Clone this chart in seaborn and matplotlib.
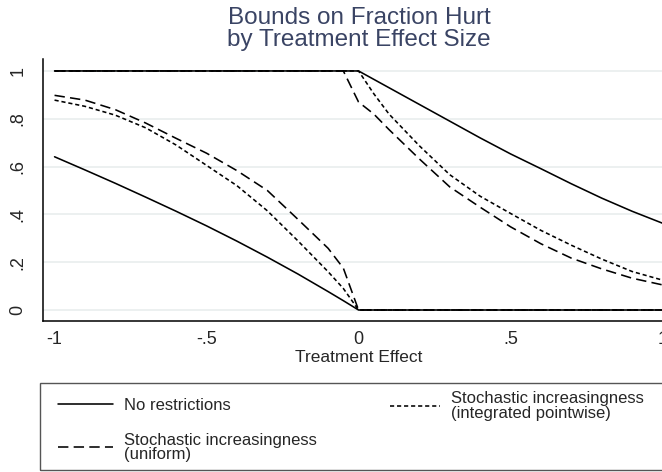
import matplotlib
matplotlib.use("Agg")
import matplotlib.pyplot as plt
from matplotlib.lines import Line2D
from matplotlib.patches import Rectangle
import seaborn as sns
import pandas as pd

# treatment effect grid (x axis)
effect = [-1.0, -0.9, -0.8, -0.7, -0.6, -0.5, -0.4, -0.3, -0.2, -0.1, -0.05, 0.0,
          0.05, 0.1, 0.2, 0.3, 0.4, 0.5, 0.6, 0.7, 0.8, 0.9, 1.0]

# no restrictions bounds
none_lower = [0.641, 0.586, 0.530, 0.472, 0.413, 0.352, 0.288, 0.221, 0.151, 0.077, 0.039, 0.0,
              0.0, 0.0, 0.0, 0.0, 0.0, 0.0, 0.0, 0.0, 0.0, 0.0, 0.0]
none_upper = [1.0, 1.0, 1.0, 1.0, 1.0, 1.0, 1.0, 1.0, 1.0, 1.0, 1.0, 1.0,
              0.965, 0.930, 0.860, 0.790, 0.720, 0.653, 0.591, 0.528, 0.468, 0.413, 0.363]

# stochastic increasingness (uniform)
unif_lower = [0.898, 0.878, 0.838, 0.782, 0.718, 0.656, 0.583, 0.500, 0.380, 0.258, 0.175, 0.0,
              0.0, 0.0, 0.0, 0.0, 0.0, 0.0, 0.0, 0.0, 0.0, 0.0, 0.0]
unif_upper = [1.0, 1.0, 1.0, 1.0, 1.0, 1.0, 1.0, 1.0, 1.0, 1.0, 1.0, 0.870,
              0.820, 0.755, 0.632, 0.515, 0.430, 0.348, 0.277, 0.217, 0.172, 0.133, 0.105]

# stochastic increasingness (integrated pointwise)
intg_lower = [0.878, 0.852, 0.815, 0.762, 0.690, 0.605, 0.520, 0.415, 0.290, 0.160, 0.090, 0.0,
              0.0, 0.0, 0.0, 0.0, 0.0, 0.0, 0.0, 0.0, 0.0, 0.0, 0.0]
intg_upper = [1.0, 1.0, 1.0, 1.0, 1.0, 1.0, 1.0, 1.0, 1.0, 1.0, 1.0, 1.0,
              0.905, 0.820, 0.687, 0.566, 0.476, 0.404, 0.333, 0.271, 0.213, 0.161, 0.125]

methods = ["No restrictions",
           "Stochastic increasingness\n(uniform)",
           "Stochastic increasingness\n(integrated pointwise)"]
yticks = [0, 0.2, 0.4, 0.6, 0.8, 1.0]
ytick_labels = ["0", ".2", ".4", ".6", ".8", "1"]
xticks = [-1, -0.5, 0, 0.5, 1]
xtick_labels = ["-1", "-.5", "0", ".5", "1"]

# long-form table for seaborn
frames = []
for name, lo, hi in zip(methods, [none_lower, unif_lower, intg_lower],
                        [none_upper, unif_upper, intg_upper]):
    frames.append(pd.DataFrame({"effect": effect, "frac": lo, "method": name, "bound": "lower"}))
    frames.append(pd.DataFrame({"effect": effect, "frac": hi, "method": name, "bound": "upper"}))
df = pd.concat(frames, ignore_index=True)

sns.set_style("white")
plt.rcParams["font.family"] = ["Liberation Sans", "DejaVu Sans"]

dash_map = {methods[0]: "", methods[1]: (6.5, 3.3), methods[2]: (2.6, 1.8)}

fig = plt.figure(figsize=(6.62, 4.72), dpi=100)
# axes run past the right edge like the cropped original
ax = fig.add_axes([43.3 / 662, 151 / 472, 631.4 / 662, 262 / 472])

# light horizontal grid
for yv in yticks:
    ax.axhline(yv, color="#e9eeee", lw=1.2, zorder=0)

sns.lineplot(data=df, x="effect", y="frac", style="method", units="bound",
             estimator=None, sort=False, dashes=dash_map, color="black",
             linewidth=1.15, legend=False, ax=ax)

ax.set_xlim(-1.037, 1.04)
ax.set_ylim(-0.046, 1.05)
ax.set_xticks(xticks)
ax.set_xticklabels(xtick_labels)
ax.set_yticks(yticks)
ax.set_yticklabels(ytick_labels, rotation=90, va="center")
ax.tick_params(axis="x", length=6, width=1, color="#777777", pad=1.5, labelsize=13)
ax.tick_params(axis="y", length=7, width=1, color="#777777", pad=5, labelsize=13)
ax.set_xlabel("Treatment Effect", fontsize=12.5, labelpad=1)
ax.set_ylabel("")
for side in ["top", "right"]:
    ax.spines[side].set_visible(False)
for side in ["left", "bottom"]:
    ax.spines[side].set_color("black")
    ax.spines[side].set_linewidth(1.1)

# title
fig.text(359 / 662, 1 - 7 / 472, "Bounds on Fraction Hurt\nby Treatment Effect Size",
         ha="center", va="top", fontsize=17.5, color="#3a4464", linespacing=1.0)

# legend box (runs off the right edge)
fig.patches.append(Rectangle((40 / 662, 2 / 472), 660 / 662, 87 / 472,
                             transform=fig.transFigure, fill=False,
                             edgecolor="#555555", lw=1.0))

handles = [Line2D([], [], color="black", lw=1.15, linestyle="-"),
           Line2D([], [], color="black", lw=1.15, dashes=dash_map[methods[1]]),
           Line2D([], [], color="black", lw=1.15, dashes=dash_map[methods[2]])]

leg1 = fig.legend([handles[0], handles[1]], [methods[0], methods[1]],
                  loc="upper left", bbox_to_anchor=(58 / 662, 1 - 398 / 472),
                  frameon=False, fontsize=12, handlelength=3.3, handletextpad=0.65,
                  borderpad=0, borderaxespad=0, labelspacing=1.17)
leg2 = fig.legend([handles[2]], [methods[2]],
                  loc="center left", bbox_to_anchor=(390 / 662, 1 - 406 / 472),
                  frameon=False, fontsize=12, handlelength=3.0, handletextpad=0.65,
                  borderpad=0, borderaxespad=0)
for leg in [leg1, leg2]:
    for t in leg.get_texts():
        t.set_linespacing(0.95)

fig.savefig("out.png", dpi=100)
